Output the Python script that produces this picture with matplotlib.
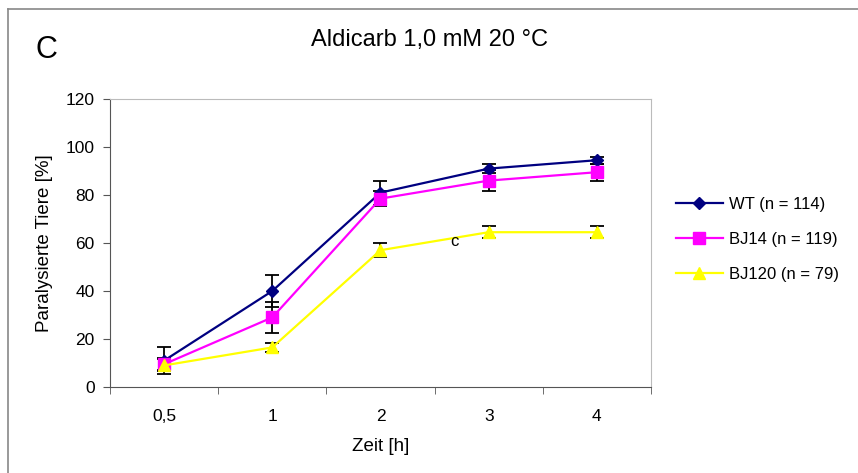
import numpy as np
import matplotlib.pyplot as plt
from matplotlib.lines import Line2D

zeit = ['0,5', '1', '2', '3', '4']

wt = [11, 40, 81, 91, 94.5]
wt_err = [5.5, 6.5, 5, 2, 1.5]

bj14 = [9.5, 29, 78.5, 86, 89.5]
bj14_err = [2.5, 6.5, 3, 4.5, 3.5]

bj120 = [9, 16.5, 57, 64.5, 64.5]
bj120_err = [2.5, 2, 3, 2.5, 2.5]

narrow = ['Liberation Sans Narrow', 'Liberation Sans', 'DejaVu Sans']
regular = ['Liberation Sans', 'DejaVu Sans']

fig = plt.figure(figsize=(8.58, 4.73), dpi=100)
ax = fig.add_axes([0.1282, 0.1818, 0.6305, 0.6089])

x = np.arange(len(zeit))

series = [
    (wt, wt_err, '#000080', 'D', 6.5, 'WT (n = 114)'),
    (bj14, bj14_err, '#FF00FF', 's', 8, 'BJ14 (n = 119)'),
    (bj120, bj120_err, '#FFFF00', '^', 9, 'BJ120 (n = 79)'),
]

handles = []
for vals, err, col, mk, ms, lab in series:
    ax.errorbar(x, vals, yerr=err, fmt='none', ecolor='black',
                elinewidth=1.3, capsize=5, capthick=1.3, zorder=2)
    ax.plot(x, vals, color=col, lw=1.6, marker=mk, ms=ms,
            markeredgecolor=col, zorder=3)
    handles.append(Line2D([], [], color=col, lw=1.6, marker=mk, ms=ms,
                          markeredgecolor=col, label=lab))

ax.text(2.68, 60.5, 'c', fontsize=12, ha='center', va='center',
        family=regular)

ax.set_xlim(-0.5, 4.5)
ax.set_ylim(0, 120)
ax.set_yticks(np.arange(0, 121, 20))
ax.set_xticks(x)
ax.set_xticklabels(zeit)
ax.set_xticks(np.arange(-0.5, 4.6, 1), minor=True)
ax.tick_params(axis='x', which='major', length=0, pad=16)
ax.tick_params(axis='x', which='minor', length=5, color='#555555')
ax.tick_params(axis='y', length=5, color='#555555', pad=6)
for lbl in ax.get_xticklabels() + ax.get_yticklabels():
    lbl.set_family(narrow)
    lbl.set_fontsize(12.5)

for side in ['top', 'right']:
    ax.spines[side].set_color('#bbbbbb')
for side in ['left', 'bottom']:
    ax.spines[side].set_color('#555555')

ax.set_xlabel('Zeit [h]', fontsize=13.5, family=narrow, labelpad=10)
ax.set_ylabel('Paralysierte Tiere [%]', fontsize=13.5, family=narrow,
              labelpad=9)

fig.text(0.501, 0.915, 'Aldicarb 1,0 mM 20 \u00b0C', fontsize=17,
         family=narrow, ha='center', va='center')
fig.text(0.054, 0.895, 'C', fontsize=22, family=narrow,
         ha='center', va='center')

fig.legend(handles=handles, loc='center left',
           bbox_to_anchor=(0.770, 0.493), frameon=False,
           prop={'family': regular, 'size': 12}, handlelength=2.85,
           labelspacing=1.2, handletextpad=0.35)

# outer frame of the panel
fig.add_artist(Line2D([0.0093, 0.0093], [0.0, 0.981], color='#888888',
                      lw=1.2, transform=fig.transFigure))
fig.add_artist(Line2D([0.0093, 1.0], [0.981, 0.981], color='#888888',
                      lw=1.2, transform=fig.transFigure))

fig.savefig('out.png', dpi=100)
